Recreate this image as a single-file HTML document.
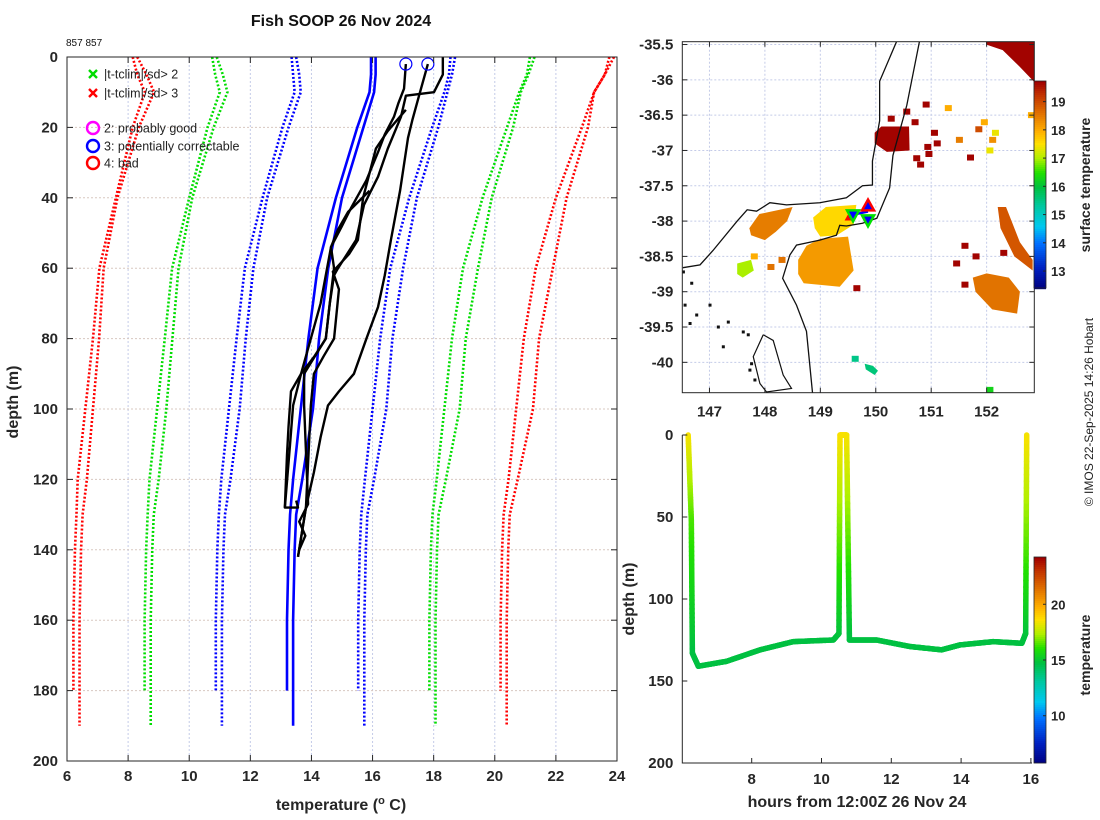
<!DOCTYPE html>
<html><head><meta charset="utf-8"><title>Fish SOOP 26 Nov 2024</title>
<style>
html,body{margin:0;padding:0;background:#fff;}
svg{display:block;font-family:"Liberation Sans","DejaVu Sans",sans-serif;}
.tk{font-size:15px;font-weight:bold;fill:#262626;}
.lab{font-size:16px;font-weight:bold;fill:#262626;}
</style></head>
<body>
<svg id="fig" width="1100" height="820" viewBox="0 0 1100 820" xmlns="http://www.w3.org/2000/svg">
<rect width="1100" height="820" fill="#fff"/>
<text x="341" y="26" text-anchor="middle" style="font-size:16px;font-weight:bold;fill:#111">Fish SOOP 26 Nov 2024</text>
<text x="66" y="46" style="font-size:10px;fill:#111">857 857</text>
<g id="main"></g>
<g id="map"></g>
<g id="tsec"></g>
<text transform="translate(1093,412) rotate(-90)" text-anchor="middle" style="font-size:12px;fill:#222">© IMOS 22-Sep-2025 14:26 Hobart</text>
</svg>
<script>
// ===== profile plot data =====
const climDepthA = [0,5,10,20,40,60,80,100,120,130,140,160,180];
const climMeanA  = [15.95,15.95,15.9,15.5,14.8,14.2,13.9,13.65,13.4,13.3,13.25,13.2,13.2];
const climSdA    = [2.6,2.55,2.45,2.45,2.4,2.38,2.35,2.35,2.35,2.33,2.33,2.33,2.33];
const climDepthB = [0,5,10,20,40,60,80,100,120,130,140,160,180,190];
const climMeanB  = [16.1,16.1,16.05,15.7,15.0,14.55,14.25,14.05,13.7,13.5,13.45,13.4,13.4,13.4];
const climSdB    = [2.6,2.5,2.4,2.45,2.45,2.45,2.4,2.4,2.35,2.33,2.33,2.33,2.33,2.33];
const sdMultipliers = [-3,-2,-1,1,2,3];
const sdColors = ['#ff0000','#00dd00','#0000ff','#0000ff','#00dd00','#ff0000'];
const cast1T = [17.09,17.03,16.85,16.70,16.4,16.18,15.8,15.29,15.0,14.64,14.74,14.6,14.47,14.1,13.66,13.40,13.3,13.13];
const cast1D = [2,9,13,17,22,27,35,43,48,54,60,70,80,85,90,99,110,128];
const cast2T = [17.81,17.49,17.3,17.16,16.9,16.60,16.4,16.18,15.8,15.39,14.9,14.54,14.3,14.08,13.82,13.56];
const cast2D = [2,12,18,23,38,52,62,71,80,90,95,99,108,118,128,142];
const cast3T = [18.30,18.30,18.01,17.09,16.93,16.5,16.18,15.72,15.46,14.87,14.74,14.6,14.47,13.76,13.76,13.89,13.6,13.8,13.6];
const cast3D = [0,5,10,11,17,26,34,42,52,60,62,70,80,90,99,127,132,136,140];
const cast4T = [17.09,16.5,16.11,15.69,15.52,15.23,14.70,14.90,14.74,14.4,14.08,13.98,13.82,13.56];
const cast4D = [15,21,26,40,52,56,61,66,80,85,90,99,128,142];
const cast5T = [15.9,15.2,14.87,14.64,14.3,13.66,13.33,13.25,13.20,13.13,13.56,13.5];
const cast5D = [38,44,49,54,70,90,95,105,113,128,128,126];
const flagT = [17.09,17.81];
const flagD = [2,2];
const tempTicks = [6,8,10,12,14,16,18,20,22,24];
const depthTicks = [0,20,40,60,80,100,120,140,160,180,200];

// ===== map data =====
const lonTicks = [147,148,149,150,151,152];
const latTicks = [-35.5,-36,-36.5,-37,-37.5,-38,-38.5,-39,-39.5,-40];
const sstTicks = [13,14,15,16,17,18,19];
const coastLon = [150.38,150.07,150.07,149.94,149.94,149.76,149.47,148.99,148.39,148.09,147.85,147.68,147.5,147.06,146.83,146.52];
const coastLat = [-35.45,-36.02,-36.58,-37.15,-37.49,-37.50,-37.67,-37.74,-37.77,-37.74,-37.86,-37.84,-38.0,-38.42,-38.62,-38.66];
const isoLon = [150.79,150.56,150.31,150.25,150.02,149.76,149.47,149.35,149.29,148.99,148.57,148.45,148.32,148.57,148.75,148.86];
const isoLat = [-35.45,-36.36,-37.07,-37.53,-37.96,-38.03,-38.07,-38.06,-38.2,-38.27,-38.34,-38.48,-38.81,-39.19,-39.56,-40.44];
const islandLon = [147.97,148.15,148.33,148.48,148.03,147.91,147.79,147.97];
const islandLat = [-39.61,-39.69,-40.18,-40.37,-40.42,-40.3,-39.92,-39.61];
const dotLon = [146.53,146.68,146.56,146.77,146.65,147.01,147.34,147.16,147.61,147.7,147.25,147.76,147.82,147.73];
const dotLat = [-38.72,-38.88,-39.19,-39.33,-39.45,-39.19,-39.43,-39.5,-39.57,-39.61,-39.78,-40.02,-40.25,-40.11];
const blobSst = [19.7,19.7,18.5,18.2,17.6,18.9,18.6,17.0,15.6];
const blobLon = [
 [151.99,152.86,152.86,152.59,152.29,151.99],
 [149.98,150.1,150.6,150.61,150.2,149.98],
 [147.72,147.9,148.5,148.4,148.2,148.0,147.75],
 [148.6,148.75,149.0,149.5,149.6,149.35,148.7,148.6],
 [148.87,149.1,149.65,149.6,149.3,149.0,148.9],
 [152.2,152.35,152.6,152.83,152.83,152.5,152.25],
 [151.75,152.0,152.4,152.6,152.55,152.1,151.8],
 [147.5,147.75,147.8,147.6,147.5],
 [149.8,149.95,150.04,149.98,149.82]
];
const blobLat = [
 [-35.46,-35.46,-36.03,-35.81,-35.58,-35.5],
 [-36.75,-36.66,-36.66,-37.0,-37.02,-36.9],
 [-38.1,-37.9,-37.8,-38.0,-38.15,-38.27,-38.2],
 [-38.55,-38.35,-38.25,-38.22,-38.7,-38.93,-38.88,-38.75],
 [-37.95,-37.8,-37.77,-38.05,-38.2,-38.22,-38.1],
 [-37.8,-37.8,-38.3,-38.55,-38.7,-38.5,-38.1],
 [-38.8,-38.74,-38.8,-39.0,-39.31,-39.25,-39.0],
 [-38.6,-38.55,-38.7,-38.8,-38.75],
 [-40.02,-40.05,-40.12,-40.18,-40.1]
];
const speckLon = [150.73,150.93,151.7,152.05,151.8,151.6,150.27,151.95,152.1,150.55,150.9,151.3,152.8,149.65,151.05,152.05,149.62,151.5,151.85,152.15,150.8,150.7,151.45,152.3,151.6,148.3,148.1,147.8,151.1,150.95];
const speckLat = [-37.11,-36.95,-37.1,-37.0,-38.5,-38.9,-36.55,-36.6,-36.85,-36.45,-36.35,-36.4,-36.5,-38.95,-36.75,-40.39,-39.95,-36.85,-36.7,-36.75,-37.2,-36.6,-38.6,-38.45,-38.35,-38.55,-38.65,-38.5,-36.9,-37.05];
const speckSst = [19.7,19.7,19.7,17.4,19.7,19.7,19.7,18.0,18.3,19.7,19.7,18.0,18.0,19.7,19.7,16.3,15.5,18.5,19.0,17.4,19.7,19.7,19.7,19.7,19.7,18.6,18.6,18.0,19.7,19.7];
const obsUpLon = [149.86,149.53];
const obsUpLat = [-37.78,-37.94];
const obsDownLon = [149.59,149.86];
const obsDownLat = [-37.92,-37.99];

// ===== depth-time data =====
const hourTicks = [8,10,12,14,16];
const secDepthTicks = [0,50,100,150,200];
const secTempTicks = [10,15,20];
const trackHours = [6.18,6.27,6.3,6.47,7.28,8.24,9.19,10.34,10.5,10.53,10.72,10.8,11.58,12.54,13.44,13.97,14.92,15.74,15.85,15.88];
const trackDepth = [0,52,133,141,138,131,126,125,121,0,0,125,125,129,131,128,126,127,121,0];
const trackTemp  = [18.6,16.5,14.8,14.8,14.8,14.8,14.8,14.8,14.9,18.6,18.6,14.8,14.8,14.8,14.8,14.8,14.8,14.8,14.9,18.6];

const NS='http://www.w3.org/2000/svg';
function mk(parent,tag,attrs){const e=document.createElementNS(NS,tag);for(const k in attrs)e.setAttribute(k,attrs[k]);parent.appendChild(e);return e;}
const cmStops=[[0,[0,0,128]],[0.1,[0,32,192]],[0.22,[0,112,255]],[0.3,[0,200,240]],[0.4,[0,200,160]],[0.49,[0,192,64]],[0.56,[32,224,0]],[0.63,[176,240,0]],[0.7,[255,224,0]],[0.76,[255,176,0]],[0.85,[224,112,0]],[0.94,[192,48,0]],[1,[160,0,0]]];
function jet(t){t=Math.max(0,Math.min(1,t));
 for(let i=0;i<cmStops.length-1;i++){const [a,ca]=cmStops[i],[b,cb]=cmStops[i+1];
  if(t<=b){const f=(t-a)/(b-a);return `rgb(${ca.map((v,k)=>Math.round(v+(cb[k]-v)*f)).join(',')})`;}}
 return 'rgb(160,0,0)';}

// ---------- profile plot ----------
(function(){
 const g=document.getElementById('main');
 const L=67,R=617,T=57,B=761;
 const xs=t=>L+(t-6)/18*(R-L), ys=d=>T+d/200*(B-T);
 tempTicks.forEach(t=>{const l=mk(g,'line',{x1:xs(t),x2:xs(t),y1:T,y2:B,stroke:'#c4cbe8','stroke-width':1,'stroke-dasharray':'2 2'});
  });
 depthTicks.forEach(d=>{const l=mk(g,'line',{x1:L,x2:R,y1:ys(d),y2:ys(d),stroke:'#d8c8c0','stroke-width':1,'stroke-dasharray':'2 2'});
  });
 [[climDepthA,climMeanA,climSdA],[climDepthB,climMeanB,climSdB]].forEach(([D,M,S])=>{
  sdMultipliers.forEach((k,i)=>{
   const pts=D.map((d,j)=>xs(M[j]+k*S[j])+','+ys(d)).join(' ');
   const p=mk(g,'polyline',{points:pts,fill:'none',stroke:sdColors[i],'stroke-width':2.6,'stroke-dasharray':'2 2'});
   
  });
  const pm=mk(g,'polyline',{points:D.map((d,j)=>xs(M[j])+','+ys(d)).join(' '),fill:'none',stroke:'#0000ff','stroke-width':2.6});
  
 });
 [[cast1T,cast1D],[cast2T,cast2D],[cast3T,cast3D],[cast4T,cast4D],[cast5T,cast5D]].forEach(([Tt,D])=>{
  const p=mk(g,'polyline',{points:Tt.map((t,j)=>xs(t)+','+ys(D[j])).join(' '),fill:'none',stroke:'#000','stroke-width':2.4,'stroke-linejoin':'round'});
  
 });
 flagT.forEach((t,i)=>{const c=mk(g,'circle',{cx:xs(t),cy:ys(flagD[i]),r:6,fill:'none',stroke:'#0000ff','stroke-width':1.2});
  });
 const ax=mk(g,'rect',{x:L,y:T,width:R-L,height:B-T,fill:'none',stroke:'#262626','stroke-width':1});
 
 tempTicks.forEach(t=>{mk(g,'line',{x1:xs(t),x2:xs(t),y1:B,y2:B-6,stroke:'#262626'});mk(g,'line',{x1:xs(t),x2:xs(t),y1:T,y2:T+6,stroke:'#262626'});
  const tx=mk(g,'text',{x:xs(t),y:B+20,'text-anchor':'middle',class:'tk'});tx.textContent=t;
  });
 depthTicks.forEach(d=>{mk(g,'line',{x1:L,x2:L+6,y1:ys(d),y2:ys(d),stroke:'#262626'});mk(g,'line',{x1:R,x2:R-6,y1:ys(d),y2:ys(d),stroke:'#262626'});
  const tx=mk(g,'text',{x:L-9,y:ys(d)+5,'text-anchor':'end',class:'tk'});tx.textContent=d;
  });
 const xt=mk(g,'text',{x:341,y:810,'text-anchor':'middle',class:'lab'});xt.innerHTML='temperature (<tspan dy="-6" style="font-size:11px">o</tspan><tspan dy="6"> C)</tspan>';
 
 const yt=mk(g,'text',{transform:'translate(18,402) rotate(-90)','text-anchor':'middle',class:'lab'});yt.textContent='depth (m)';
 
 const lg=mk(g,'g',{});
 const items=[['x','#00dd00','|t-tclim|/sd> 2',74],['x','#ff0000','|t-tclim|/sd> 3',93],['o','#ff00ff','2: probably good',128],['o','#0000ff','3: potentially correctable',146],['o','#ff0000','4: bad',163]];
 items.forEach(([s,c,lbl,y])=>{
  const e=mk(lg,'g',{});
  if(s==='x'){mk(e,'path',{d:`M${89},${y-4}l8,8M${97},${y-4}l-8,8`,stroke:c,'stroke-width':2.4});}
  else{mk(e,'circle',{cx:93,cy:y,r:6,fill:'none',stroke:c,'stroke-width':2.4});}
  const t=mk(e,'text',{x:104,y:y+4.5,style:'font-size:12.5px;fill:#222'});t.textContent=lbl;
 });
})();

// ---------- map ----------
(function(){
 const g=document.getElementById('map');
 const L=682.3,R=1034.3,T=41.7,B=392.7;
 const lon0=146.51,lon1=152.86,lat0=-35.46,lat1=-40.43;
 const xs=v=>L+(v-lon0)/(lon1-lon0)*(R-L), ys=v=>T+(v-lat0)/(lat1-lat0)*(B-T);
 const sc=v=>jet((v-12.4)/(19.73-12.4));
 const clip=mk(g,'clipPath',{id:'mapclip'});mk(clip,'rect',{x:L,y:T,width:R-L,height:B-T});
 const inner=mk(g,'g',{'clip-path':'url(#mapclip)'});
 lonTicks.forEach(v=>{const l=mk(inner,'line',{x1:xs(v),x2:xs(v),y1:T,y2:B,stroke:'#c4cbe8','stroke-dasharray':'2 2'});});
 latTicks.forEach(v=>{const l=mk(inner,'line',{x1:L,x2:R,y1:ys(v),y2:ys(v),stroke:'#c4cbe8','stroke-dasharray':'2 2'});});
 blobLon.forEach((lo,i)=>{const p=mk(inner,'polygon',{points:lo.map((v,j)=>xs(v)+','+ys(blobLat[i][j])).join(' '),fill:sc(blobSst[i])});
  });
 speckLon.forEach((v,i)=>{const r=mk(inner,'rect',{x:xs(v)-3,y:ys(speckLat[i])-3,width:7,height:6,fill:sc(speckSst[i])});
  });
 const cl=mk(inner,'polyline',{points:coastLon.map((v,j)=>xs(v)+','+ys(coastLat[j])).join(' '),fill:'none',stroke:'#111','stroke-width':1.3});
 
 const iso=mk(inner,'polyline',{points:isoLon.map((v,j)=>xs(v)+','+ys(isoLat[j])).join(' '),fill:'none',stroke:'#111','stroke-width':1.3});
 
 const isl=mk(inner,'polyline',{points:islandLon.map((v,j)=>xs(v)+','+ys(islandLat[j])).join(' '),fill:'none',stroke:'#111','stroke-width':1.2});
 
 dotLon.forEach((v,i)=>{const r=mk(inner,'rect',{x:xs(v)-1.5,y:ys(dotLat[i])-1.5,width:3,height:3,fill:'#111'});});
 const tr=mk(inner,'line',{x1:xs(obsUpLon[1]),y1:ys(obsDownLat[0]),x2:xs(obsUpLon[0]),y2:ys(obsUpLat[0])+6,stroke:'#0000ff','stroke-width':2.5});
 
 obsUpLon.forEach((v,i)=>{const x=xs(v),y=ys(obsUpLat[i]);const s=i?3:6;
  const p=mk(inner,'polygon',{points:`${x},${y-s} ${x-s},${y+s*0.8} ${x+s},${y+s*0.8}`,fill:'#0000ff',stroke:'#ff0000','stroke-width':2.5});
  });
 obsDownLon.forEach((v,i)=>{const x=xs(v),y=ys(obsDownLat[i]);
  const p=mk(inner,'polygon',{points:`${x-6},${y-5} ${x+6},${y-5} ${x},${y+6}`,fill:'#0000ff',stroke:'#00e000','stroke-width':2.5});
  });
 const fr=mk(g,'rect',{x:L,y:T,width:R-L,height:B-T,fill:'none',stroke:'#262626'});
 lonTicks.forEach(v=>{mk(g,'line',{x1:xs(v),x2:xs(v),y1:B,y2:B-5,stroke:'#262626'});mk(g,'line',{x1:xs(v),x2:xs(v),y1:T,y2:T+5,stroke:'#262626'});
  const t=mk(g,'text',{x:xs(v),y:B+24,'text-anchor':'middle',class:'tk'});t.textContent=v;});
 latTicks.forEach(v=>{mk(g,'line',{x1:L,x2:L+5,y1:ys(v),y2:ys(v),stroke:'#262626'});mk(g,'line',{x1:R,x2:R-5,y1:ys(v),y2:ys(v),stroke:'#262626'});
  const t=mk(g,'text',{x:L-9,y:ys(v)+5,'text-anchor':'end',class:'tk'});t.textContent=v;});
 const cb=mk(g,'g',{});
 const cT=81,cB=288,cv=y=>19.73-(y-cT)/(cB-cT)*(19.73-12.4);
 for(let y=cT;y<cB;y+=2)mk(cb,'rect',{x:1034,y:y,width:12,height:2.2,fill:sc(cv(y))});
 mk(cb,'rect',{x:1034,y:cT,width:12,height:cB-cT,fill:'none',stroke:'#262626','stroke-width':0.8});
 sstTicks.forEach(v=>{const y=cT+(19.73-v)/(19.73-12.4)*(cB-cT);mk(cb,'line',{x1:1046,x2:1043,y1:y,y2:y,stroke:'#262626'});
  const t=mk(cb,'text',{x:1051,y:y+5,style:'font-size:13px;font-weight:bold;fill:#262626'});t.textContent=v;});
 const ct=mk(g,'text',{transform:'translate(1090,185) rotate(-90)','text-anchor':'middle',class:'lab',style:'font-size:14px'});ct.textContent='surface temperature';
 
})();

// ---------- depth-time plot ----------
(function(){
 const g=document.getElementById('tsec');
 const L=682.3,R=1032,T=435,B=763;
 const xs=h=>751.7+(h-8)*34.9, ys=d=>T+d/200*(B-T);
 const tc=v=>jet((v-5.76)/(24.24-5.76));
 const tr=mk(g,'g',{});
 for(let i=0;i<trackHours.length-1;i++){
  const n=30;
  for(let k=0;k<n;k++){
   const a=k/n,b=(k+1)/n;
   const h0=trackHours[i]+(trackHours[i+1]-trackHours[i])*a,h1=trackHours[i]+(trackHours[i+1]-trackHours[i])*b;
   const d0=trackDepth[i]+(trackDepth[i+1]-trackDepth[i])*a,d1=trackDepth[i]+(trackDepth[i+1]-trackDepth[i])*b;
   const t=trackTemp[i]+(trackTemp[i+1]-trackTemp[i])*(a+b)/2;
   mk(tr,'line',{x1:xs(h0),y1:ys(d0),x2:xs(h1),y2:ys(d1),stroke:tc(t),'stroke-width':5.5,'stroke-linecap':'round'});
  }
 }
 const fr=mk(g,'path',{d:`M${L},${T}V${B}H${R}`,fill:'none',stroke:'#262626'});
 hourTicks.forEach(h=>{mk(g,'line',{x1:xs(h),x2:xs(h),y1:B,y2:B-5,stroke:'#262626'});
  const t=mk(g,'text',{x:xs(h),y:B+21,'text-anchor':'middle',class:'tk'});t.textContent=h;});
 secDepthTicks.forEach(d=>{mk(g,'line',{x1:L,x2:L+5,y1:ys(d),y2:ys(d),stroke:'#262626'});
  const t=mk(g,'text',{x:L-9,y:ys(d)+5,'text-anchor':'end',class:'tk'});t.textContent=d;});
 const xt=mk(g,'text',{x:857,y:807,'text-anchor':'middle',class:'lab'});xt.textContent='hours from 12:00Z 26 Nov 24';
 const yt=mk(g,'text',{transform:'translate(634,599) rotate(-90)','text-anchor':'middle',class:'lab'});yt.textContent='depth (m)';
 const cb=mk(g,'g',{});
 const cT=557,cB=763;
 for(let y=cT;y<cB;y+=2)mk(cb,'rect',{x:1034,y:y,width:12,height:2.2,fill:tc(24.24-(y-cT)/(cB-cT)*(24.24-5.76))});
 mk(cb,'rect',{x:1034,y:cT,width:12,height:cB-cT,fill:'none',stroke:'#262626','stroke-width':0.8});
 secTempTicks.forEach(v=>{const y=cT+(24.24-v)/(24.24-5.76)*(cB-cT);mk(cb,'line',{x1:1046,x2:1043,y1:y,y2:y,stroke:'#262626'});
  const t=mk(cb,'text',{x:1051,y:y+5,style:'font-size:13px;font-weight:bold;fill:#262626'});t.textContent=v;});
 const ct=mk(g,'text',{transform:'translate(1090,655) rotate(-90)','text-anchor':'middle',class:'lab',style:'font-size:14px'});ct.textContent='temperature';
 
})();
</script>
</body></html>
